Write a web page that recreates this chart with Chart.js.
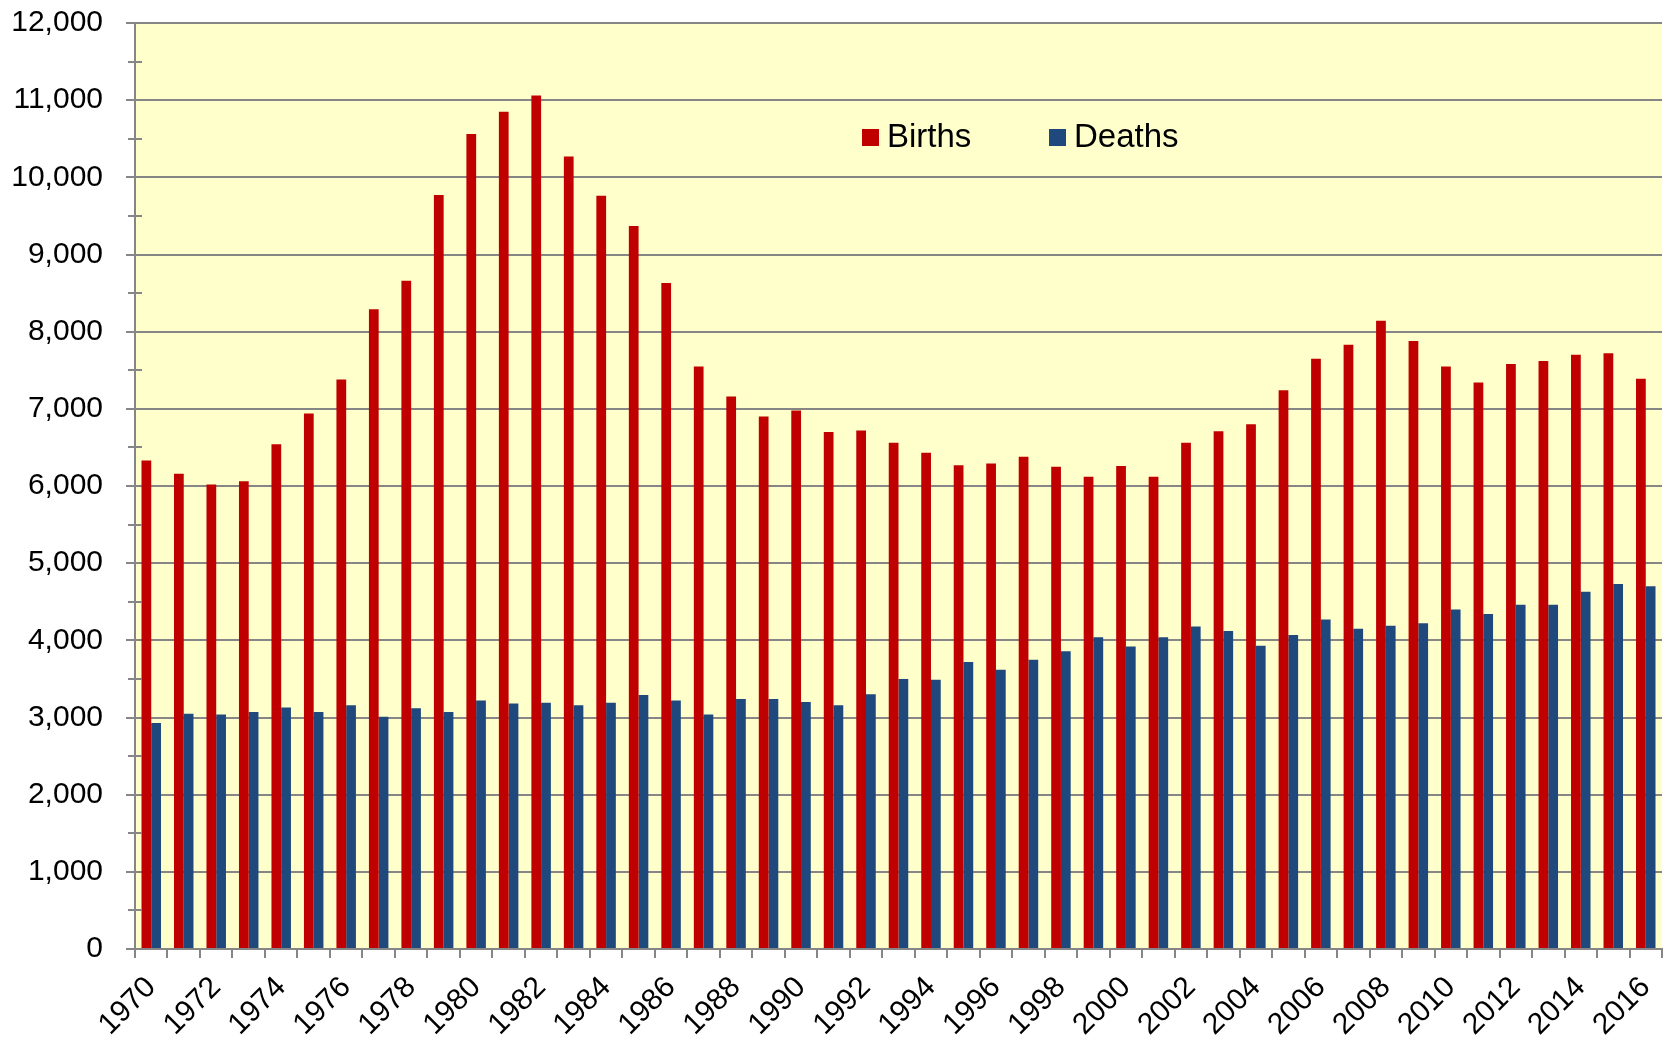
<!DOCTYPE html>
<html>
<head>
<meta charset="utf-8">
<title>Births and Deaths 1970-2016</title>
<script src="https://cdn.jsdelivr.net/npm/chart.js@4.4.1/dist/chart.umd.min.js"></script>
<style>
  html, body { margin: 0; padding: 0; background: #ffffff; }
  #myChart { display: block; }
</style>
</head>
<body>
<canvas id="myChart" width="1663" height="1041"></canvas>
<script>
/* Datos del gráfico */
const years = [
  "1970", "1971", "1972", "1973", "1974", "1975", "1976", "1977", "1978", "1979",
  "1980", "1981", "1982", "1983", "1984", "1985", "1986", "1987", "1988", "1989",
  "1990", "1991", "1992", "1993", "1994", "1995", "1996", "1997", "1998", "1999",
  "2000", "2001", "2002", "2003", "2004", "2005", "2006", "2007", "2008", "2009",
  "2010", "2011", "2012", "2013", "2014", "2015", "2016"
];
const births = [
  6330, 6160, 6020, 6060, 6540, 6940, 7380, 8290, 8660, 9770,
  10560, 10850, 11060, 10270, 9760, 9370, 8630, 7550, 7160, 6900,
  6980, 6700, 6720, 6560, 6430, 6270, 6290, 6380, 6250, 6120,
  6260, 6120, 6560, 6710, 6800, 7240, 7650, 7830, 8140, 7880,
  7550, 7340, 7580, 7620, 7700, 7720, 7390
];
const deaths = [
  2930, 3050, 3040, 3070, 3130, 3070, 3160, 3010, 3120, 3070,
  3220, 3180, 3190, 3160, 3190, 3290, 3220, 3040, 3240, 3240,
  3200, 3160, 3300, 3500, 3490, 3720, 3620, 3750, 3860, 4040,
  3920, 4040, 4180, 4120, 3930, 4070, 4270, 4150, 4190, 4220,
  4400, 4340, 4460, 4460, 4630, 4730, 4700
];
const yMin = 0;
const yMax = 12000;
const yStep = 1000;
const seriesNames = ["Births", "Deaths"];
const seriesColors = ["#C00000", "#1F497D"];

const ctx = document.getElementById("myChart");
const gray = "#868686";
const font = "'Liberation Sans', Arial, sans-serif";

/* Fondo amarillo del área del gráfico */
const plotBackground = {
  id: "plotBackground",
  beforeDraw(chart) {
    const { ctx, chartArea: a } = chart;
    ctx.save();
    ctx.fillStyle = "#FFFFCC";
    ctx.fillRect(a.left, a.top, a.right - a.left, a.bottom - a.top);
    ctx.restore();
  }
};

/* Marcas menores del eje Y (cada 500) */
const minorTicks = {
  id: "minorTicks",
  afterDraw(chart) {
    const { ctx, scales } = chart;
    const y = scales.y;
    const x0 = chart.chartArea.left;
    ctx.save();
    ctx.strokeStyle = gray;
    ctx.lineWidth = 2;
    for (let v = yMin + yStep / 2; v < yMax; v += yStep) {
      const py = Math.round(y.getPixelForValue(v));
      ctx.beginPath();
      ctx.moveTo(x0 - 7, py);
      ctx.lineTo(x0 + 7, py);
      ctx.stroke();
    }
    ctx.restore();
  }
};

/* Leyenda dentro del área del gráfico */
const insideLegend = {
  id: "insideLegend",
  afterDraw(chart) {
    const { ctx } = chart;
    const xs = [862, 1049];
    ctx.save();
    ctx.font = "33px " + font;
    ctx.textBaseline = "alphabetic";
    ctx.textAlign = "left";
    chart.data.datasets.forEach((ds, i) => {
      ctx.fillStyle = ds.backgroundColor;
      ctx.fillRect(xs[i], 129, 17, 17);
      ctx.fillStyle = "#000000";
      ctx.fillText(ds.label, xs[i] + 25, 147);
    });
    ctx.restore();
  }
};

const config = {
  type: "bar",
  data: {
    labels: years,
    datasets: [
      {
        label: seriesNames[0],
        data: births,
        backgroundColor: seriesColors[0],
        categoryPercentage: 0.6,
        barPercentage: 1.0
      },
      {
        label: seriesNames[1],
        data: deaths,
        backgroundColor: seriesColors[1],
        categoryPercentage: 0.6,
        barPercentage: 1.0
      }
    ]
  },
  options: {
    responsive: false,
    animation: false,
    layout: { padding: { top: 6, right: 1, bottom: 0, left: 0 } },
    plugins: {
      legend: { display: false },
      tooltip: { enabled: false }
    },
    scales: {
      x: {
        grid: {
          display: true,
          offset: true,
          drawOnChartArea: false,
          drawTicks: true,
          tickLength: 9,
          color: gray,
          tickColor: gray,
          lineWidth: 2
        },
        border: { display: true, color: gray, width: 2 },
        ticks: {
          autoSkip: false,
          maxRotation: 45,
          minRotation: 45,
          padding: 12,
          color: "#000000",
          font: { family: font, size: 30 },
          callback: (val, i) => (i % 2 === 0 ? years[i] : "")
        },
        afterFit: (scale) => {
          scale.height = 92;
          scale.paddingRight = 0;
        }
      },
      y: {
        min: yMin,
        max: yMax,
        grid: {
          color: gray,
          tickColor: gray,
          lineWidth: 2,
          tickLength: 9
        },
        border: { display: true, color: gray, width: 2 },
        ticks: {
          stepSize: yStep,
          padding: 23,
          color: "#000000",
          font: { family: font, size: 30 },
          callback: (v) => v.toLocaleString("en-US")
        },
        afterFit: (scale) => {
          scale.width = 135;
          scale.paddingTop = 23;
          scale.paddingBottom = 0;
        }
      }
    }
  },
  plugins: [plotBackground, minorTicks, insideLegend]
};

let myChart = new Chart(ctx, config);
</script>
</body>
</html>
